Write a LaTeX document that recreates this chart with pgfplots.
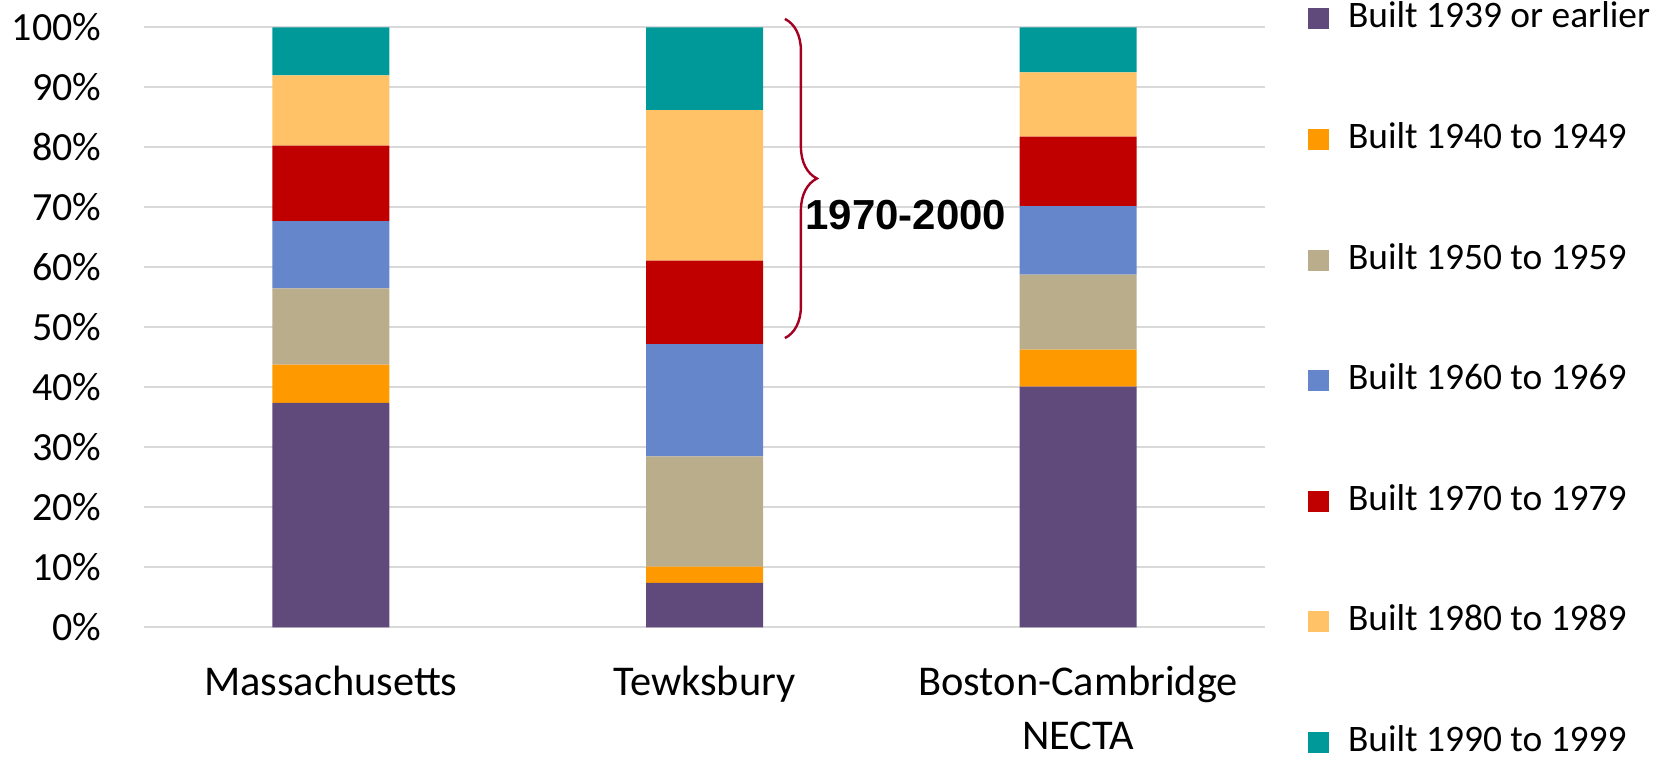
\documentclass[border=0pt]{standalone}
\usepackage{pgfplots}
\pgfplotsset{compat=1.18}
\usepackage{fontspec}
\setmainfont{Carlito}
\newfontfamily\arialfont{Liberation Sans}
\usetikzlibrary{decorations.pathreplacing}
\definecolor{cA}{HTML}{604A7B}
\definecolor{cB}{HTML}{FF9900}
\definecolor{cC}{HTML}{B9AD8C}
\definecolor{cD}{HTML}{6686CB}
\definecolor{cE}{HTML}{C00000}
\definecolor{cF}{HTML}{FFC266}
\definecolor{cG}{HTML}{009999}
\definecolor{gridgray}{HTML}{D9D9D9}
\definecolor{bracecol}{HTML}{A50021}
\begin{document}
\begin{tikzpicture}
\path[use as bounding box] (-72pt,-64.85pt) rectangle (759pt,313.65pt);
\begin{axis}[
  at={(0pt,0pt)}, anchor=south west,
  scale only axis, width=560.5pt, height=300pt,
  ybar stacked, bar width=58.5pt,
  xmin=-0.5, xmax=2.5, ymin=0, ymax=100,
  xtick={0,1,2},
  xticklabels={Massachusetts, Tewksbury, {Boston-Cambridge\\NECTA}},
  ytick={0,10,20,30,40,50,60,70,80,90,100},
  yticklabels={0\%,10\%,20\%,30\%,40\%,50\%,60\%,70\%,80\%,90\%,100\%},
  yticklabel style={font=\fontsize{20}{24}\selectfont, inner sep=0pt, anchor=east, xshift=-21.15pt},
  xticklabel style={font=\fontsize{21.2}{26.8}\selectfont, inner sep=0pt, anchor=north, yshift=-19.2pt, align=center},
  axis line style={draw=none},
  major tick length=0pt,
  ymajorgrids, grid style={draw=gridgray, line width=1pt},
  clip=false,
  legend style={at={(1.0384,1.0423)}, anchor=north west, draw=none, fill=none,
    inner sep=0pt, outer sep=0pt, row sep=43.3pt, column sep=9.5pt,
    font=\fontsize{18.7}{20}\selectfont,
    nodes={inner sep=0pt, text height=13pt, text depth=4pt}},
  legend cell align=left,
  legend image code/.code={\fill[#1] (0pt,-5.25pt) rectangle (10.5pt,5.25pt);},
]
\addplot[fill=cA, draw=none] coordinates {(0,37.4) (1,7.4) (2,40.1)};
\addplot[fill=cB, draw=none] coordinates {(0,6.4) (1,2.7) (2,6.2)};
\addplot[fill=cC, draw=none] coordinates {(0,12.7) (1,18.4) (2,12.5)};
\addplot[fill=cD, draw=none] coordinates {(0,11.2) (1,18.7) (2,11.4)};
\addplot[fill=cE, draw=none] coordinates {(0,12.6) (1,13.9) (2,11.6)};
\addplot[fill=cF, draw=none] coordinates {(0,11.7) (1,25.1) (2,10.7)};
\addplot[fill=cG, draw=none] coordinates {(0,8.0) (1,13.8) (2,7.5)};
\legend{Built 1939 or earlier, Built 1940 to 1949, Built 1950 to 1959, Built 1960 to 1969, Built 1970 to 1979, Built 1980 to 1989, Built 1990 to 1999}
\draw[bracecol, line width=1.2pt, decorate, decoration={brace, amplitude=16pt}] (axis cs:1.2152,101.4) -- (axis cs:1.2152,48.2);
\node[font=\arialfont\bfseries\fontsize{21}{24}\selectfont, text=black] at (axis cs:1.539,68.7) {1970-2000};
\end{axis}
\end{tikzpicture}
\end{document}
